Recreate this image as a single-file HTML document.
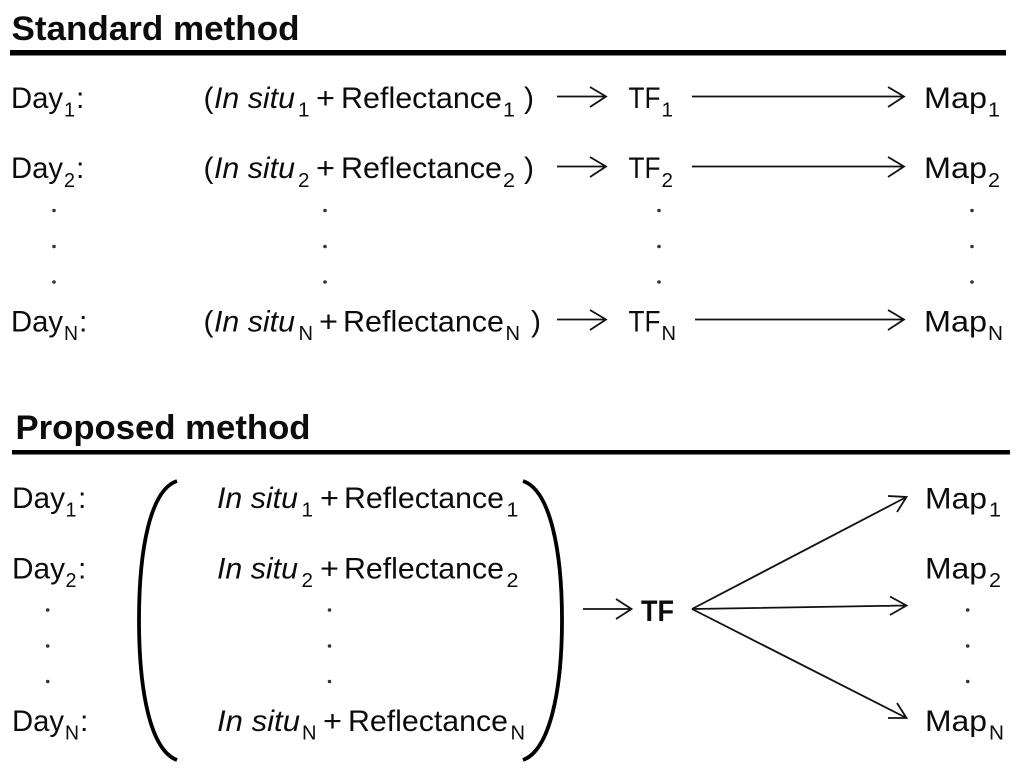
<!DOCTYPE html>
<html><head><meta charset="utf-8"><style>
html,body{margin:0;padding:0;background:#fff}
svg{display:block}
text{font-family:"Liberation Sans",sans-serif;fill:#0c0c0c;font-size:30px;transform:translateY(.8px)}
.s{font-size:20px}
.i{font-style:italic}
.b{font-weight:bold;font-size:34px}
.l{stroke:#111;stroke-width:1.8;fill:none}
.d{fill:#333}
</style></head><body>
<svg width="1024" height="776" viewBox="0 0 1024 776" xmlns="http://www.w3.org/2000/svg">
<text class="b" x="11.5" y="39" textLength="288" lengthAdjust="spacingAndGlyphs">Standard method</text>
<rect x="10" y="50" width="996" height="5.5" fill="#000"/>
<!-- row 1 -->
<text x="11" y="107" textLength="52" lengthAdjust="spacingAndGlyphs">Day</text><text class="s" x="64" y="115.5" textLength="11" lengthAdjust="spacingAndGlyphs">1</text><text x="76" y="107">:</text>
<text x="203.5" y="107">(</text><text class="i" x="214" y="107" textLength="81" lengthAdjust="spacingAndGlyphs">In situ</text><text class="s" x="298" y="115.5" textLength="11.5" lengthAdjust="spacingAndGlyphs">1</text><text x="316" y="107" textLength="19" lengthAdjust="spacingAndGlyphs">+</text><text x="341" y="107" textLength="161" lengthAdjust="spacingAndGlyphs">Reflectance</text><text class="s" x="503" y="115.5" textLength="12" lengthAdjust="spacingAndGlyphs">1</text><text x="524" y="107">)</text>
<text x="628.5" y="107" textLength="32" lengthAdjust="spacingAndGlyphs">TF</text><text class="s" x="661.5" y="115.5" textLength="11.5" lengthAdjust="spacingAndGlyphs">1</text>
<text x="924" y="107" textLength="63" lengthAdjust="spacingAndGlyphs">Map</text><text class="s" x="988" y="115.5" textLength="12" lengthAdjust="spacingAndGlyphs">1</text>
<path class="l" d="M557 96.5H606M590 87L606 96.5L590 107M692 96.5H904M888 87L904 96.5L888 107"/>
<!-- row 2 -->
<text x="11" y="177" textLength="52" lengthAdjust="spacingAndGlyphs">Day</text><text class="s" x="64" y="186" textLength="11" lengthAdjust="spacingAndGlyphs">2</text><text x="76" y="177">:</text>
<text x="203.5" y="177">(</text><text class="i" x="214" y="177" textLength="81" lengthAdjust="spacingAndGlyphs">In situ</text><text class="s" x="298" y="186" textLength="11.5" lengthAdjust="spacingAndGlyphs">2</text><text x="316" y="177" textLength="19" lengthAdjust="spacingAndGlyphs">+</text><text x="341" y="177" textLength="161" lengthAdjust="spacingAndGlyphs">Reflectance</text><text class="s" x="503" y="186" textLength="12" lengthAdjust="spacingAndGlyphs">2</text><text x="524" y="177">)</text>
<text x="628.5" y="177" textLength="32" lengthAdjust="spacingAndGlyphs">TF</text><text class="s" x="661.5" y="186" textLength="11.5" lengthAdjust="spacingAndGlyphs">2</text>
<text x="924" y="177" textLength="63" lengthAdjust="spacingAndGlyphs">Map</text><text class="s" x="988" y="186" textLength="12" lengthAdjust="spacingAndGlyphs">2</text>
<path class="l" d="M557 166.5H606M590 157L606 166.5L590 177M692 166.5H904M888 157L904 166.5L888 177"/>
<!-- dots -->
<g class="d">
<circle cx="54" cy="210.5" r="1.8"/><circle cx="54" cy="246.5" r="1.8"/><circle cx="54" cy="282" r="1.8"/>
<circle cx="325" cy="210.5" r="1.8"/><circle cx="325" cy="246.5" r="1.8"/><circle cx="325" cy="282" r="1.8"/>
<circle cx="659" cy="210.5" r="1.8"/><circle cx="659" cy="246.5" r="1.8"/><circle cx="659" cy="282" r="1.8"/>
<circle cx="972" cy="210.5" r="1.8"/><circle cx="972" cy="246.5" r="1.8"/><circle cx="972" cy="282" r="1.8"/>
<circle cx="47.7" cy="610" r="1.8"/><circle cx="47.7" cy="646" r="1.8"/><circle cx="47.7" cy="681.5" r="1.8"/>
<circle cx="329.5" cy="610" r="1.8"/><circle cx="329.5" cy="646" r="1.8"/><circle cx="329.5" cy="681.5" r="1.8"/>
<circle cx="967.7" cy="610" r="1.8"/><circle cx="967.7" cy="646" r="1.8"/><circle cx="967.7" cy="681.5" r="1.8"/>
</g>
<!-- row N -->
<text x="11" y="330.5" textLength="52" lengthAdjust="spacingAndGlyphs">Day</text><text class="s" x="64" y="339" textLength="14" lengthAdjust="spacingAndGlyphs">N</text><text x="79" y="330.5">:</text>
<text x="203.5" y="330.5">(</text><text class="i" x="214" y="330.5" textLength="81" lengthAdjust="spacingAndGlyphs">In situ</text><text class="s" x="298.5" y="339" textLength="14.5" lengthAdjust="spacingAndGlyphs">N</text><text x="319" y="330.5" textLength="19" lengthAdjust="spacingAndGlyphs">+</text><text x="343" y="330.5" textLength="161" lengthAdjust="spacingAndGlyphs">Reflectance</text><text class="s" x="505.5" y="339" textLength="14.5" lengthAdjust="spacingAndGlyphs">N</text><text x="531" y="330.5">)</text>
<text x="628.5" y="330.5" textLength="32" lengthAdjust="spacingAndGlyphs">TF</text><text class="s" x="661.5" y="339" textLength="14.5" lengthAdjust="spacingAndGlyphs">N</text>
<text x="924" y="330.5" textLength="63" lengthAdjust="spacingAndGlyphs">Map</text><text class="s" x="988" y="339" textLength="15" lengthAdjust="spacingAndGlyphs">N</text>
<path class="l" d="M557 319.5H606M590 310L606 319.5L590 330M695 319.5H904M888 310L904 319.5L888 330"/>
<!-- proposed -->
<text class="b" x="15.5" y="438" textLength="295" lengthAdjust="spacingAndGlyphs">Proposed method</text>
<rect x="12" y="450" width="998" height="4.5" fill="#000"/>
<text x="12" y="507" textLength="53" lengthAdjust="spacingAndGlyphs">Day</text><text class="s" x="65.5" y="515.5" textLength="11" lengthAdjust="spacingAndGlyphs">1</text><text x="78" y="507">:</text>
<text class="i" x="217" y="507" textLength="81" lengthAdjust="spacingAndGlyphs">In situ</text><text class="s" x="301.5" y="515.5" textLength="11.5" lengthAdjust="spacingAndGlyphs">1</text><text x="320" y="507" textLength="19" lengthAdjust="spacingAndGlyphs">+</text><text x="344" y="507" textLength="160" lengthAdjust="spacingAndGlyphs">Reflectance</text><text class="s" x="506.5" y="515.5" textLength="12" lengthAdjust="spacingAndGlyphs">1</text>
<text x="925" y="507.5" textLength="62" lengthAdjust="spacingAndGlyphs">Map</text><text class="s" x="989" y="515.5" textLength="12" lengthAdjust="spacingAndGlyphs">1</text>
<text x="12" y="577.5" textLength="53" lengthAdjust="spacingAndGlyphs">Day</text><text class="s" x="65.5" y="586" textLength="11" lengthAdjust="spacingAndGlyphs">2</text><text x="78" y="577.5">:</text>
<text class="i" x="217" y="577.5" textLength="81" lengthAdjust="spacingAndGlyphs">In situ</text><text class="s" x="301.5" y="586" textLength="11.5" lengthAdjust="spacingAndGlyphs">2</text><text x="320" y="577.5" textLength="19" lengthAdjust="spacingAndGlyphs">+</text><text x="344" y="577.5" textLength="160" lengthAdjust="spacingAndGlyphs">Reflectance</text><text class="s" x="506.5" y="586" textLength="12" lengthAdjust="spacingAndGlyphs">2</text>
<text x="925" y="577.5" textLength="62" lengthAdjust="spacingAndGlyphs">Map</text><text class="s" x="989" y="586" textLength="12" lengthAdjust="spacingAndGlyphs">2</text>
<text x="12" y="730" textLength="52" lengthAdjust="spacingAndGlyphs">Day</text><text class="s" x="65" y="738.5" textLength="14" lengthAdjust="spacingAndGlyphs">N</text><text x="80" y="730">:</text>
<text class="i" x="217" y="730" textLength="83" lengthAdjust="spacingAndGlyphs">In situ</text><text class="s" x="302" y="738.5" textLength="14.5" lengthAdjust="spacingAndGlyphs">N</text><text x="323" y="730" textLength="19" lengthAdjust="spacingAndGlyphs">+</text><text x="348" y="730" textLength="160" lengthAdjust="spacingAndGlyphs">Reflectance</text><text class="s" x="510.5" y="738.5" textLength="14.5" lengthAdjust="spacingAndGlyphs">N</text>
<text x="925" y="730" textLength="62" lengthAdjust="spacingAndGlyphs">Map</text><text class="s" x="989" y="738.5" textLength="15" lengthAdjust="spacingAndGlyphs">N</text>
<path d="M177 481C150 490 139 550 139 620C139 690 150 750 177 760" fill="none" stroke="#000" stroke-width="3.8"/>
<path d="M523 481C550 490 562 550 562 620C562 690 550 750 523 760" fill="none" stroke="#000" stroke-width="3.8"/>
<path class="l" d="M583 609H631.5M616 599L631.5 609L616 619"/>
<text x="641" y="620" textLength="33" lengthAdjust="spacingAndGlyphs" style="font-weight:bold;font-size:30px">TF</text>
<path class="l" d="M692 609L906.5 497M888 496L906.5 497L897 512M692 609L906.5 605.5M890 596.5L906.5 605.5L890 615M692 609L906.5 718M888 718L906.5 718L897 703"/>
</svg>
</body></html>
